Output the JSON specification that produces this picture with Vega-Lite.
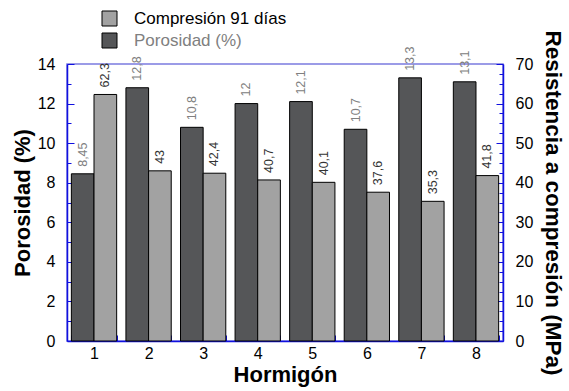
{
  "$schema": "https://vega.github.io/schema/vega-lite/v6.json",
  "autosize": {"type": "none"},
  "padding": {"left": 67, "top": 64, "right": 66, "bottom": 50},
  "width": 436,
  "height": 277,
  "config": {
    "font": "Liberation Sans",
    "view": {"stroke": "#7b7be0", "strokeWidth": 1.5},
    "locale": {"number": {"decimal": ",", "thousands": ".", "grouping": [3], "currency": ["", " €"]}}
  },
  "data": {
    "values": [
      {"h": 1, "serie": "Porosidad (%)", "value": 8.45},
      {"h": 2, "serie": "Porosidad (%)", "value": 12.8},
      {"h": 3, "serie": "Porosidad (%)", "value": 10.8},
      {"h": 4, "serie": "Porosidad (%)", "value": 12},
      {"h": 5, "serie": "Porosidad (%)", "value": 12.1},
      {"h": 6, "serie": "Porosidad (%)", "value": 10.7},
      {"h": 7, "serie": "Porosidad (%)", "value": 13.3},
      {"h": 8, "serie": "Porosidad (%)", "value": 13.1},
      {"h": 1, "serie": "Compresión 91 días", "value": 62.3},
      {"h": 2, "serie": "Compresión 91 días", "value": 43},
      {"h": 3, "serie": "Compresión 91 días", "value": 42.4},
      {"h": 4, "serie": "Compresión 91 días", "value": 40.7},
      {"h": 5, "serie": "Compresión 91 días", "value": 40.1},
      {"h": 6, "serie": "Compresión 91 días", "value": 37.6},
      {"h": 7, "serie": "Compresión 91 días", "value": 35.3},
      {"h": 8, "serie": "Compresión 91 días", "value": 41.8}
    ]
  },
  "encoding": {
    "x": {
      "field": "h", "type": "ordinal",
      "scale": {"paddingInner": 0.17, "paddingOuter": 0.08},
      "axis": {
        "title": "Hormigón", "titleFontSize": 22, "titleFontWeight": "bold", "titleColor": "black", "titlePadding": 3,
        "labelAngle": 0, "labelFontSize": 16, "labelColor": "black", "labelPadding": 10,
        "ticks": true, "tickBand": "extent", "tickSize": -6, "tickColor": "#1010e0",
        "domainColor": "#1010e0", "domainWidth": 1.5
      }
    },
    "xOffset": {"field": "serie", "type": "nominal", "scale": {"domain": ["Porosidad (%)", "Compresión 91 días"]}},
    "color": {
      "field": "serie", "type": "nominal",
      "scale": {"domain": ["Compresión 91 días", "Porosidad (%)"], "range": ["#a2a2a2", "#555658"]},
      "legend": {
        "title": null, "orient": "none", "legendX": 34, "legendY": -54,
        "symbolType": "square", "symbolSize": 225, "symbolStrokeColor": "black", "symbolStrokeWidth": 1,
        "symbolOpacity": 1,
        "labelFontSize": 17, "labelOffset": 16, "rowPadding": 3,
        "encode": {"labels": {"update": {"fill": {"signal": "datum.label === 'Porosidad (%)' ? '#808080' : 'black'"}}}}
      }
    }
  },
  "layer": [
    {
      "transform": [{"filter": "datum.serie === 'Porosidad (%)'"}],
      "encoding": {
        "y": {
          "field": "value", "type": "quantitative",
          "scale": {"domain": [0, 14], "nice": false},
          "axis": {
            "orient": "left", "title": "Porosidad (%)", "titleFontSize": 22, "titleFontWeight": "bold", "titleColor": "black", "titlePadding": 3,
            "values": [0,0.5,1,1.5,2,2.5,3,3.5,4,4.5,5,5.5,6,6.5,7,7.5,8,8.5,9,9.5,10,10.5,11,11.5,12,12.5,13,13.5,14],
            "format": "d",
            "labelExpr": "datum.value % 2 === 0 ? datum.label : ''",
            "labelOverlap": false, "labelFontSize": 16, "labelColor": "black", "labelPadding": 19,
            "tickSize": {"condition": {"test": "datum.value % 2 === 0", "value": -7}, "value": -4},
            "tickColor": "#1010e0", "domainColor": "#1010e0", "domainWidth": 1.5, "grid": false
          }
        }
      },
      "layer": [
        {"mark": {"type": "bar", "stroke": "black", "strokeWidth": 1, "opacity": 1}},
        {
          "mark": {"type": "text", "angle": 270, "align": "left", "baseline": "middle", "dx": 7, "fontSize": 12.5},
          "encoding": {"text": {"field": "value", "type": "quantitative", "format": ".4~g"}, "color": {"value": "#808080"}}
        }
      ]
    },
    {
      "transform": [{"filter": "datum.serie === 'Compresión 91 días'"}],
      "encoding": {
        "y": {
          "field": "value", "type": "quantitative",
          "scale": {"domain": [0, 70], "nice": false},
          "axis": {
            "orient": "right", "title": "Resistencia a compresión (MPa)", "titleFontSize": 22.5, "titleFontWeight": "bold", "titleColor": "black", "titlePadding": 8,
            "values": [0,2.5,5,7.5,10,12.5,15,17.5,20,22.5,25,27.5,30,32.5,35,37.5,40,42.5,45,47.5,50,52.5,55,57.5,60,62.5,65,67.5,70],
            "format": "d",
            "labelExpr": "datum.value % 10 === 0 ? datum.label : ''",
            "labelOverlap": false, "labelFontSize": 16, "labelColor": "black", "labelPadding": 19,
            "tickSize": {"condition": {"test": "datum.value % 10 === 0", "value": -7}, "value": -4},
            "tickColor": "#1010e0", "domainColor": "#1010e0", "domainWidth": 1.5, "grid": false
          }
        }
      },
      "layer": [
        {"mark": {"type": "bar", "stroke": "black", "strokeWidth": 1, "opacity": 1}},
        {
          "mark": {"type": "text", "angle": 270, "align": "left", "baseline": "middle", "dx": 7, "fontSize": 12.5},
          "encoding": {"text": {"field": "value", "type": "quantitative", "format": ".4~g"}, "color": {"value": "#333333"}}
        }
      ]
    }
  ],
  "resolve": {"scale": {"y": "independent"}}
}
